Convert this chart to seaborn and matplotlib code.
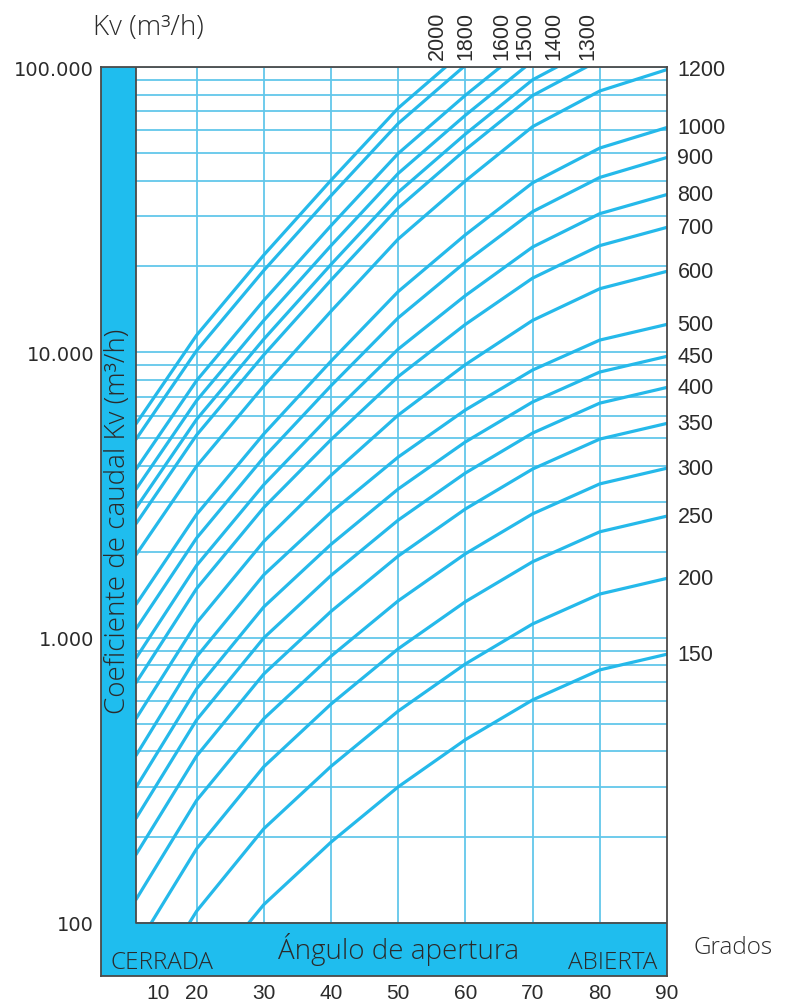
import numpy as np
import pandas as pd
import matplotlib
matplotlib.use("Agg")
import matplotlib.pyplot as plt
import seaborn as sns

# angle of opening (degrees) where each curve was read
angles = [11, 20, 30, 40, 50, 60, 70, 80, 90]

# valve sizes (DN)
sizes = [150, 200, 250, 300, 350, 400, 450, 500, 600, 700, 800, 900, 1000,
         1200, 1300, 1400, 1500, 1600, 1800, 2000]

# Kv (m3/h), one list per valve size
kv_150 = [27, 60, 116, 192, 300, 439, 605, 771, 875]
kv_200 = [50, 110, 214, 354, 553, 809, 1117, 1422, 1614]
kv_250 = [82, 182, 353, 585, 914, 1337, 1845, 2350, 2667]
kv_300 = [121, 269, 520, 861, 1346, 1968, 2716, 3459, 3926]
kv_350 = [174, 385, 746, 1236, 1932, 2825, 3899, 4966, 5636]
kv_400 = [233, 515, 998, 1652, 2582, 3776, 5212, 6637, 7534]
kv_450 = [299, 662, 1282, 2123, 3319, 4853, 6699, 8531, 9683]
kv_500 = [387, 857, 1660, 2748, 4295, 6281, 8670, 11040, 12530]
kv_600 = [521, 1127, 2173, 3707, 6026, 9057, 12940, 16710, 19230]
kv_700 = [696, 1486, 2858, 4943, 8222, 12530, 18200, 23660, 27420]
kv_800 = [849, 1791, 3436, 6039, 10260, 15810, 23390, 30620, 35730]
kv_900 = [1074, 2234, 4285, 7638, 13210, 20700, 31120, 41020, 48200]
kv_1000 = [1309, 2704, 5176, 9311, 16330, 25820, 39260, 52000, 61380]
kv_1200 = [1954, 3990, 7621, 13930, 24950, 39900, 61800, 82410, 97950]
kv_1300 = [2512, 5129, 9795, 17910, 32060, 51290, 79430, 105900, 125900]
kv_1400 = [2851, 5821, 11120, 20320, 36390, 58210, 90160, 120200, 142900]
kv_1500 = [3319, 6776, 12940, 23660, 42360, 67760, 104950, 139960, 166340]
kv_1600 = [3899, 7962, 15200, 27800, 49770, 79620, 123300, 164400, 195400]
kv_1800 = [4966, 10140, 19360, 35400, 63390, 101400, 157000, 209400, 248900]
kv_2000 = [5623, 11480, 21930, 40090, 71780, 114800, 177800, 237100, 281800]

all_kv = [kv_150, kv_200, kv_250, kv_300, kv_350, kv_400, kv_450, kv_500,
          kv_600, kv_700, kv_800, kv_900, kv_1000, kv_1200, kv_1300, kv_1400,
          kv_1500, kv_1600, kv_1800, kv_2000]

# labels on the right (curves ending at 90 deg) and on top (curves leaving the chart)
right_labels = [150, 200, 250, 300, 350, 400, 450, 500, 600, 700, 800, 900, 1000, 1200]
top_labels = ["2000", "1800", "1600", "1500", "1400", "1300"]
top_label_angles = [55.8, 60.0, 65.5, 68.9, 73.1, 78.2]

x_ticks = [14.3, 20, 30, 40, 50, 60, 70, 80, 90]
x_ticklabels = ["10", "20", "30", "40", "50", "60", "70", "80", "90"]
y_ticks = [100, 1000, 10000, 100000]
y_ticklabels = ["100", "1.000", "10.000", "100.000"]

rows = []
for dn, kv in zip(sizes, all_kv):
    for a, v in zip(angles, kv):
        rows.append({"angle": a, "kv": v, "dn": dn})
df = pd.DataFrame(rows)

BLUE = "#1fbdee"
LINE = "#25b9ea"
GRID = "#62c7ea"
FRAME = "#4a4a4a"
TXT = "#2b2b2b"

sns.set_style("white")
plt.rcParams["font.family"] = ["DejaVu Sans"]

W, H = 791, 1003
fig = plt.figure(figsize=(W / 100, H / 100), dpi=100)
ax = fig.add_axes([101 / W, 1 - 977 / H, 566 / W, 909 / H])
ax.set_yscale("log")
x0 = 90 - 566 / 6.72
y0 = 10 ** (2 - 53 / 285.3)
ax.set_xlim(x0, 90)
ax.set_ylim(y0, 1e5)

# grid
minor = [m * 10 ** e for e in range(2, 5) for m in range(1, 10)] + [1e5]
ax.hlines(minor, 11, 90, color=GRID, lw=1.3, zorder=1)
ax.vlines(range(20, 90, 10), 100, 1e5, color=GRID, lw=1.3, zorder=1)

sns.lineplot(data=df, x="angle", y="kv", units="dn", estimator=None,
             color=LINE, lw=2.3, sort=False, ax=ax, zorder=3)

# blue bands (closed side / axis caption band)
ax.axvspan(x0, 11, color=BLUE, zorder=5, lw=0)
ax.axhspan(y0, 100, color=BLUE, zorder=5, lw=0)
ax.plot([11, 11, 90], [1e5, 100, 100], color=FRAME, lw=1.3, zorder=6,
        solid_capstyle="butt")
for s in ax.spines.values():
    s.set_color(FRAME)
    s.set_linewidth(1.3)
    s.set_zorder(7)

ax.minorticks_off()
ax.set_yticks(y_ticks)
ax.set_yticklabels(y_ticklabels, fontsize=14, color=TXT, family="DejaVu Sans")
ax.set_xticks(x_ticks)
ax.set_xticklabels(x_ticklabels, fontsize=15, color=TXT, family="Liberation Sans")
ax.tick_params(axis="y", length=0, pad=5)
ax.tick_params(axis="x", length=0, pad=5)
ax.set_xlabel("")
ax.set_ylabel("")

# size labels
for dn in right_labels:
    v = df[(df.dn == dn) & (df.angle == 90)].kv.iloc[0]
    ax.annotate(str(dn), (90, v), xytext=(7.5, 0), textcoords="offset points",
                ha="left", va="center", fontsize=15.5, color=TXT,
                family="Liberation Sans", annotation_clip=False)
for lab, a in zip(top_labels, top_label_angles):
    ax.annotate(lab, (a, 1e5), xytext=(0, 5.5), textcoords="offset points",
                ha="center", va="bottom", rotation=90, fontsize=15.5, color=TXT,
                family="Liberation Sans", annotation_clip=False)

# captions
fam = ["Open Sans", "DejaVu Sans"]
fig.text(148 / W, 1 - 28 / H, "Kv (m³/h)", ha="center", va="center",
         fontsize=20, color=TXT, family=fam, fontweight="light")
fig.text(733 / W, 1 - 948 / H, "Grados", ha="center", va="center",
         fontsize=17.5, color=TXT, family=fam, fontweight="light")
fig.text(110 / W, 1 - 963 / H, "CERRADA", ha="left", va="center",
         fontsize=17.5, color=TXT, family=fam, fontweight="light", zorder=10)
fig.text(399 / W, 1 - 950 / H, "Ángulo de apertura", ha="center", va="center",
         fontsize=20, color=TXT, family=fam, fontweight="light", zorder=10)
fig.text(657 / W, 1 - 963 / H, "ABIERTA", ha="right", va="center",
         fontsize=17.5, color=TXT, family=fam, fontweight="light", zorder=10)
fig.text(118 / W, 1 - 521 / H, "Coeficiente de caudal Kv (m³/h)", ha="center",
         va="center", rotation=90, fontsize=20, color=TXT, family=fam,
         fontweight="light", zorder=10)

fig.savefig("out.png", dpi=100, facecolor="white")
